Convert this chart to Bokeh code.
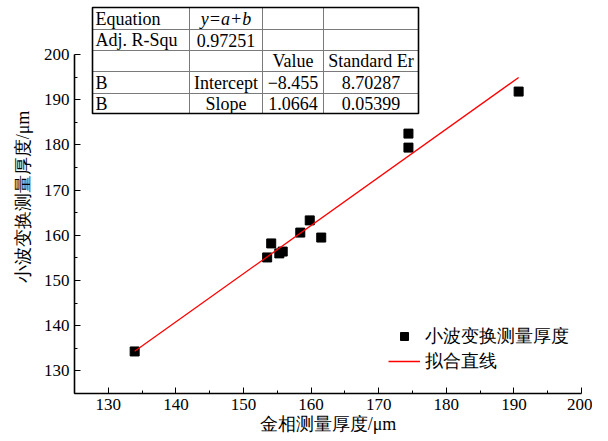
from math import pi
from bokeh.plotting import figure
from bokeh.models import (Range1d, FixedTicker, Legend, LegendItem,
                          ColumnDataSource)
from bokeh.embed import file_html
from bokeh.resources import INLINE
from bokeh.core.properties import value

# ---------------- data ----------------
gold_thickness = [133.9, 153.5, 154.1, 155.3, 155.8, 158.4, 159.8, 161.5, 174.4, 174.4, 190.7]
wavelet_thickness = [134.3, 155.1, 158.2, 156.0, 156.4, 160.6, 163.3, 159.5, 182.5, 179.4, 191.8]

fit_intercept = -8.455
fit_slope = 1.0664

x_ticks = [130, 140, 150, 160, 170, 180, 190, 200]
y_ticks = [130, 140, 150, 160, 170, 180, 190, 200]

table_col0 = ["Equation", "Adj. R-Squ", "", "B", "B"]
table_col1 = ["y=a+b", "0.97251", "", "Intercept", "Slope"]
table_col2 = ["", "", "Value", "\u22128.455", "1.0664"]
table_col3 = ["", "", "Standard Er", "8.70287", "0.05399"]

series_label = "小波变换测量厚度"
fit_label = "拟合直线"
x_title = "金相测量厚度/μm"
y_title = "小波变换测量厚度/μm"

# ---------------- layout constants (page pixels) ----------------
W, H = 592, 441
FRAME_L, FRAME_R = 74, 581      # page x of frame
FRAME_T, FRAME_B = 0, 393       # page y of frame
X0, X1 = 125, 200
AX_Y0, AX_Y1 = 125, 200
PY_AX_TOP = 54                  # page y of y=200

def dx(px):
    return X0 + (px - FRAME_L) * (X1 - X0) / (FRAME_R - FRAME_L)

def dy(py):
    return AX_Y0 + (py - FRAME_B) * (AX_Y1 - AX_Y0) / (PY_AX_TOP - FRAME_B)

SERIF = "Times"
MIXED = "Times"

p = figure(width=W, height=H, output_backend="svg", toolbar_location=None,
           x_range=Range1d(X0, X1), y_range=Range1d(AX_Y0, dy(FRAME_T)),
           min_border_left=FRAME_L, min_border_right=W - FRAME_R,
           min_border_top=FRAME_T, min_border_bottom=H - FRAME_B)
p.outline_line_color = None
p.xgrid.visible = False
p.ygrid.visible = False
p.background_fill_color = "white"
p.border_fill_color = "white"

for ax, ticks in ((p.xaxis, x_ticks), (p.yaxis, y_ticks)):
    ax.ticker = FixedTicker(ticks=ticks, minor_ticks=[t - 5 for t in ticks])
    ax.axis_line_color = "black"
    ax.axis_line_width = 1.6
    ax.major_tick_in = 6
    ax.major_tick_out = 0
    ax.minor_tick_in = 3
    ax.minor_tick_out = 0
    ax.major_tick_line_color = "black"
    ax.minor_tick_line_color = "black"
    ax.major_label_text_font = SERIF
    ax.major_label_text_font_size = "17px"
    ax.major_label_text_color = "black"
    ax.axis_label_text_font = MIXED
    ax.axis_label_text_font_size = "18px"
    ax.axis_label_text_font_style = "normal"
    ax.axis_label_text_color = "black"
p.yaxis.bounds = (AX_Y0, AX_Y1)
p.xaxis.bounds = (X0, X1)
p.xaxis.major_label_standoff = 5
p.yaxis.major_label_standoff = 5
p.xaxis.axis_label = x_title
p.yaxis.axis_label = y_title
p.xaxis.axis_label_standoff = 1
p.yaxis.axis_label_standoff = 8

# ---------------- data marks ----------------
src = ColumnDataSource(dict(x=gold_thickness, y=wavelet_thickness))
sc = p.scatter("x", "y", source=src, marker="square", size=9,
               fill_color="black", line_color="black")

xmin, xmax = min(gold_thickness), max(gold_thickness)
fit_x = [xmin, xmax]
fit_y = [fit_intercept + fit_slope * v for v in fit_x]
ln = p.line(fit_x, fit_y, line_color="#ff0000", line_width=1.3)

legend = Legend(items=[LegendItem(label=series_label, renderers=[sc]),
                       LegendItem(label=fit_label, renderers=[ln])],
                location=(388 - FRAME_L, FRAME_B - 373),
                padding=0, margin=0, spacing=1,
                glyph_width=32, glyph_height=20, label_height=20,
                label_standoff=5, border_line_alpha=0,
                background_fill_alpha=0,
                label_text_font=MIXED, label_text_font_size="18px",
                label_text_color="black")
p.add_layout(legend)

# ---------------- parameter table ----------------
col_px = [92, 189, 262, 323, 418]
row_px = [7, 29, 50, 71, 93, 113]

p.quad(left=[dx(col_px[0])], right=[dx(col_px[-1])],
       top=[dy(row_px[0])], bottom=[dy(row_px[-1])],
       fill_color="white", line_color=None)

seg_x0, seg_y0, seg_x1, seg_y1 = [], [], [], []
for c in col_px[1:-1]:
    seg_x0.append(dx(c)); seg_x1.append(dx(c))
    seg_y0.append(dy(row_px[0])); seg_y1.append(dy(row_px[-1]))
for r in row_px[1:-1]:
    seg_x0.append(dx(col_px[0])); seg_x1.append(dx(col_px[-1]))
    seg_y0.append(dy(r)); seg_y1.append(dy(r))
p.segment(seg_x0, seg_y0, seg_x1, seg_y1, line_color="#7a7a7a", line_width=1)

p.quad(left=[dx(col_px[0])], right=[dx(col_px[-1])],
       top=[dy(row_px[0])], bottom=[dy(row_px[-1])],
       fill_color=None, line_color="black", line_width=1.6)

row_centers = [dy((row_px[i] + row_px[i + 1]) / 2) for i in range(5)]
cols = [table_col0, table_col1, table_col2, table_col3]
for ci, col in enumerate(cols):
    if ci == 0:
        xs = [dx(col_px[0] + 3)] * 5
        align = "left"
    else:
        xs = [dx((col_px[ci] + col_px[ci + 1]) / 2)] * 5
        align = "center"
    styles = ["italic" if (ci == 1 and i == 0) else "normal" for i in range(5)]
    s = ColumnDataSource(dict(x=xs, y=row_centers, t=col, st=styles))
    p.text("x", "y", text="t", source=s, text_align=align,
           text_baseline="middle", text_font=value(SERIF),
           text_font_size="18px", text_color="black", text_font_style="st")

open("out.html", "w").write(file_html(p, INLINE))
